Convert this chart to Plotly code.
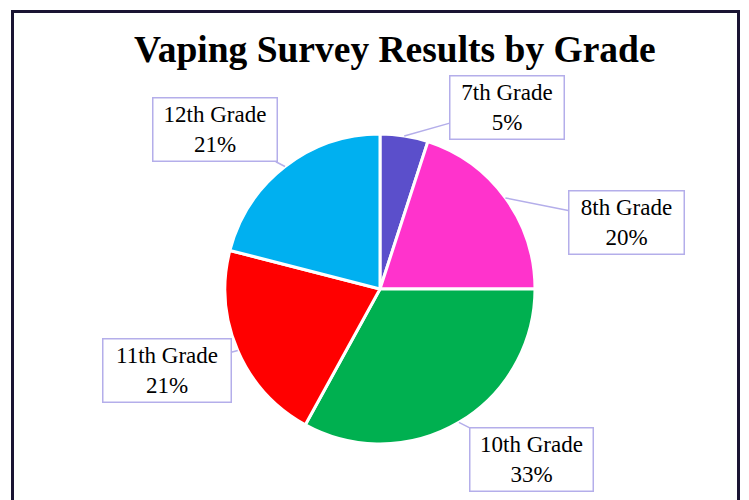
import math
import plotly.graph_objects as go

grades = ["7th Grade", "8th Grade", "10th Grade", "11th Grade", "12th Grade"]
percents = [5, 20, 33, 21, 21]
colors = ["#5B4FCB", "#FF33CC", "#00B050", "#FF0000", "#00B0F0"]

W, H = 749, 500
# pie geometry (pixels)
CX, CY, R = 372, 281, 155
# callout box centres and widths (pixels, layout only)
box_centres = [(499, 99), (618, 214), (523, 451), (159, 362), (207, 122)]
box_widths = [111, 112, 120, 125, 121]

fig = go.Figure()
fig.add_trace(go.Pie(
    labels=grades, values=percents, sort=False, direction="clockwise", rotation=0,
    marker=dict(colors=colors, line=dict(color="white", width=3)),
    textinfo="none", hoverinfo="label+percent", showlegend=False,
    domain=dict(x=[(CX - R) / W, (CX + R) / W], y=[(H - CY - R) / H, (H - CY + R) / H]),
))

total = sum(percents)
cum = 0
annotations = []
for g, v, (bx, by), bw in zip(grades, percents, box_centres, box_widths):
    mid = (cum + v / 2) / total * 2 * math.pi
    cum += v
    px = CX + R * math.sin(mid)
    py = CY - R * math.cos(mid)
    annotations.append(dict(
        x=px / W, y=1 - py / H, xref="paper", yref="paper",
        text=f"{g}<br>{round(v / total * 100)}%",
        showarrow=True, arrowhead=0, arrowwidth=1.5, arrowcolor="#B4AEEA",
        ax=bx - px, ay=by - py, axref="pixel", ayref="pixel",
        bordercolor="#B4AEEA", borderwidth=1.5, borderpad=1, bgcolor="white",
        width=bw, height=60,
        font=dict(family="Liberation Serif", size=23, color="black"),
    ))

annotations.append(dict(
    x=387 / W, y=1 - 42 / H, xref="paper", yref="paper", showarrow=False,
    text="<b>Vaping Survey Results by Grade</b>",
    font=dict(family="Liberation Serif", size=37.5, color="black"),
    xanchor="center", yanchor="middle",
))

fig.update_layout(
    width=W, height=H, margin=dict(l=0, r=0, t=0, b=0),
    paper_bgcolor="white", plot_bgcolor="white",
    annotations=annotations,
    shapes=[dict(type="rect", xref="paper", yref="paper",
                 x0=4.5 / W, x1=730.5 / W, y0=-0.2, y1=1 - 3.5 / H,
                 line=dict(color="#1A1433", width=3), layer="below")],
)

fig.write_html("out.html")
